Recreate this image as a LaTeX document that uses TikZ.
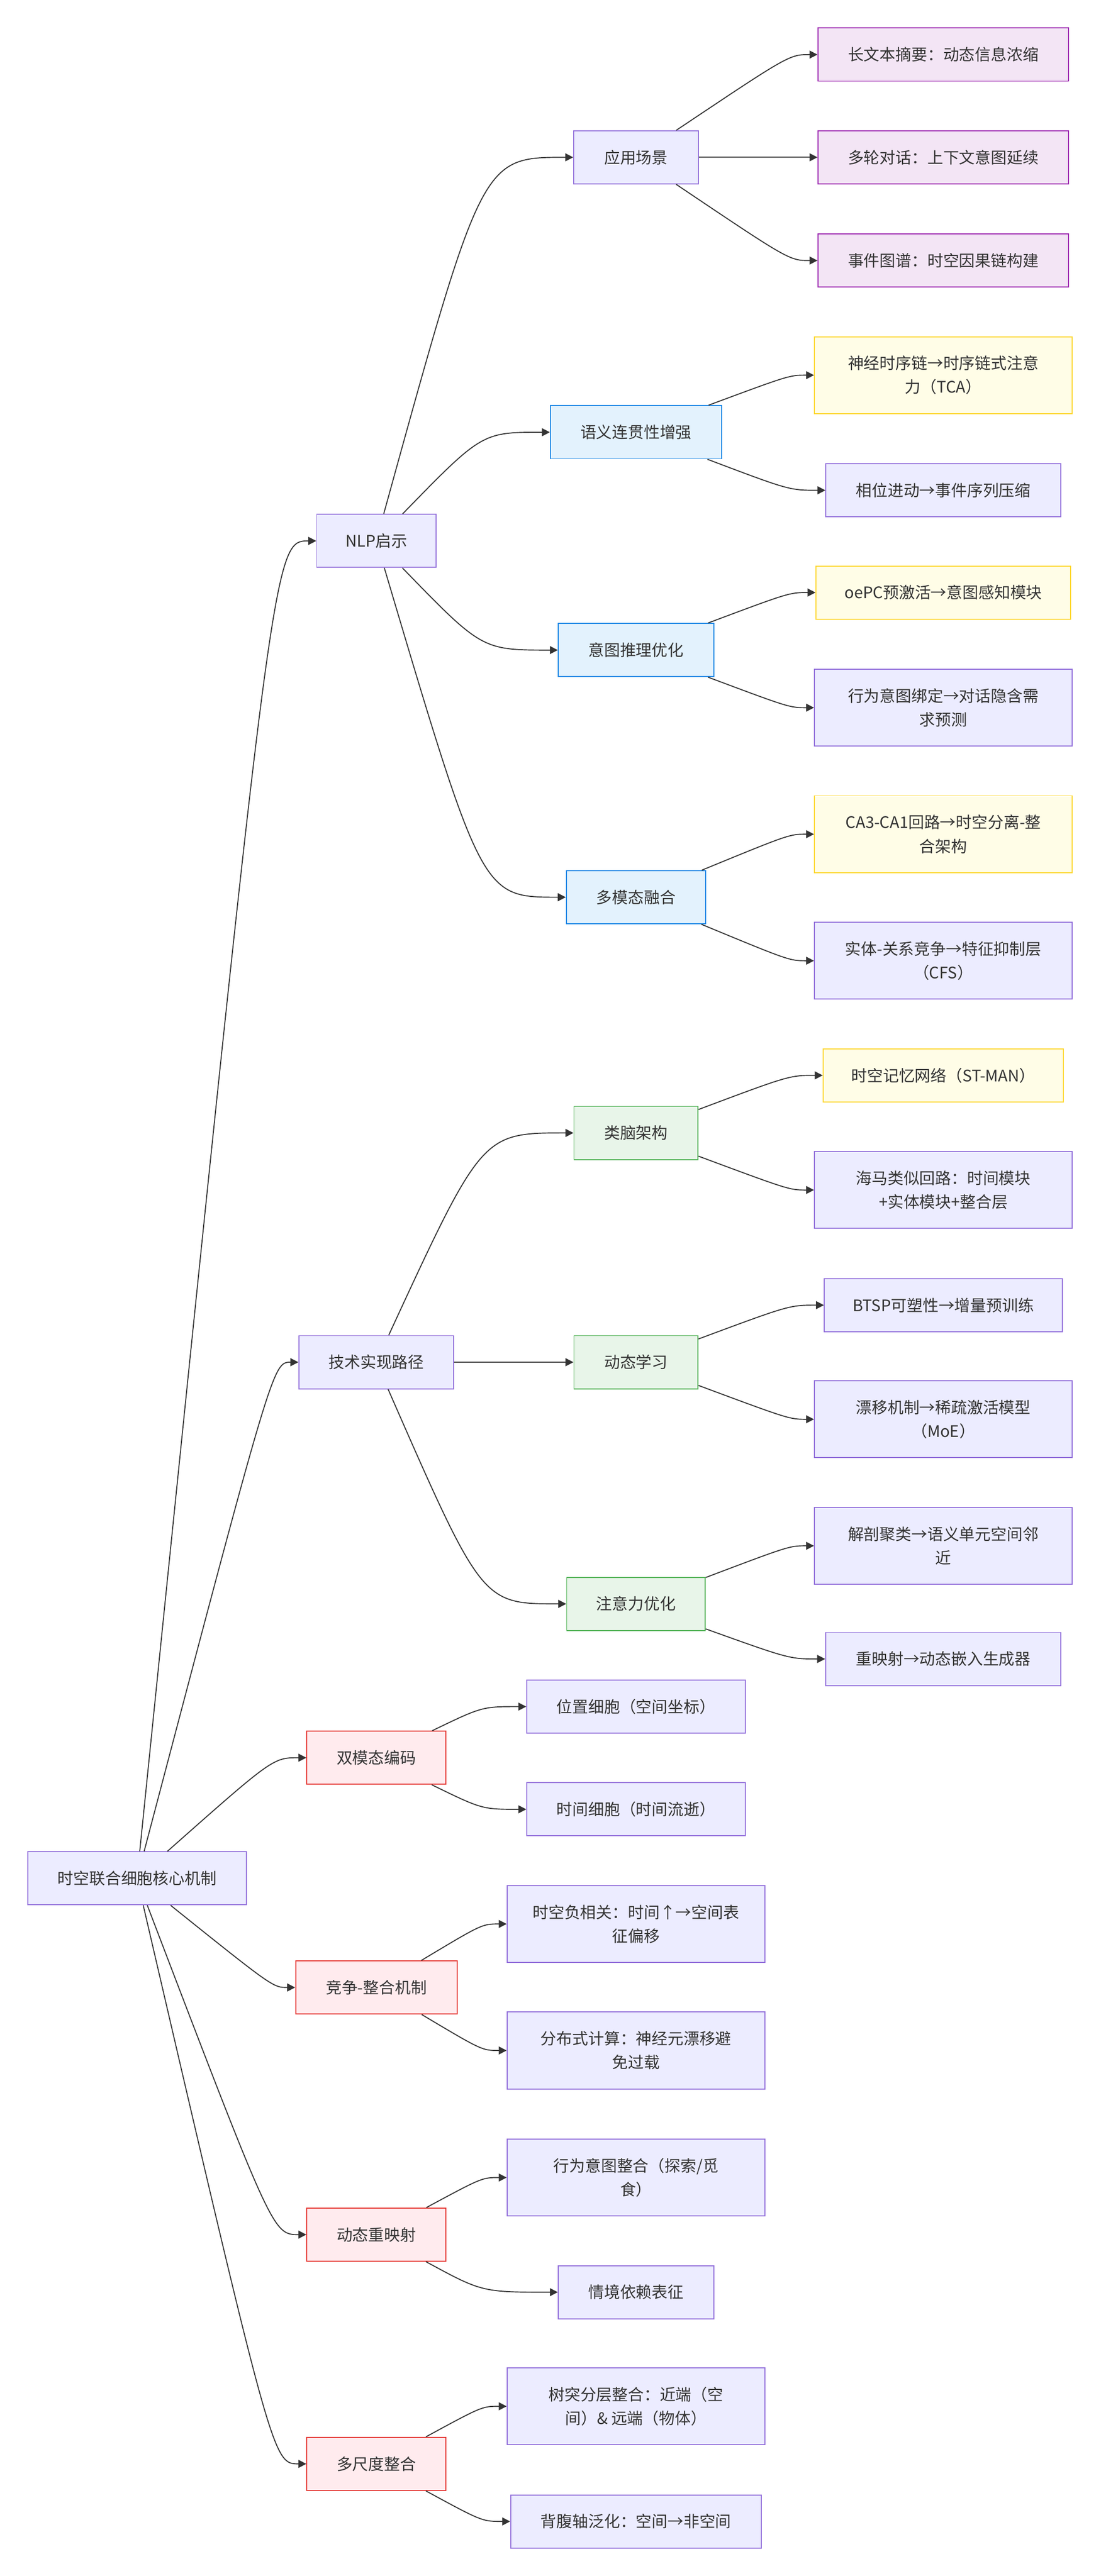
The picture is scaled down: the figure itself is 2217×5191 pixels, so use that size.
\documentclass[tikz,border=0pt]{standalone}
\usepackage{fontspec}
\setmainfont{Noto Sans CJK SC}
\usepackage{tikz}
\usetikzlibrary{arrows.meta}
\definecolor{edgeGray}{HTML}{333333}
\definecolor{baseFill}{HTML}{ECECFF}
\definecolor{baseLine}{HTML}{9370DB}
\definecolor{appFill}{HTML}{F3E5F5}
\definecolor{appLine}{HTML}{9C27B0}
\definecolor{nlpFill}{HTML}{E3F2FD}
\definecolor{nlpLine}{HTML}{1E88E5}
\definecolor{bioFill}{HTML}{FFFDE7}
\definecolor{bioLine}{HTML}{FDD835}
\definecolor{techFill}{HTML}{E8F5E9}
\definecolor{techLine}{HTML}{4CAF50}
\definecolor{coreFill}{HTML}{FFEBEE}
\definecolor{coreLine}{HTML}{E53935}
\newcommand{\tikzLinkEdge}[3]{
  \draw[link] (#1) .. controls (#2 |- #3) .. (#3.west);
}

\begin{document}
\begin{tikzpicture}[x=1pt, y=-1pt,
  box/.style={draw=baseLine, fill=baseFill, line width=2pt, rectangle, inner sep=0pt,
    minimum height=107pt, align=center, text=edgeGray,
    font=\fontsize{32pt}{48pt}\selectfont},
  tall/.style={minimum height=155pt},
  appBox/.style={box, draw=appLine, fill=appFill},
  nlpBox/.style={box, draw=nlpLine, fill=nlpFill},
  bioBox/.style={box, draw=bioLine, fill=bioFill},
  techBox/.style={box, draw=techLine, fill=techFill},
  coreBox/.style={box, draw=coreLine, fill=coreFill},
  link/.style={draw=edgeGray, line width=2pt, -{Triangle[length=16pt, width=16pt]}}]
  \useasboundingbox (0,0) rectangle (2217,5191);
  % gaps between the columns
  \coordinate (g0) at (550, 0);
  \coordinate (g1) at (971, 0);
  \coordinate (g2) at (1590, 0);

  \node [box, minimum width=440pt] (root) at (276, 3785) {时空联合细胞核心机制};

  \node [box, minimum width=240pt] (nlp) at (758, 1090) {NLP启示};
  \node [box, minimum width=312pt] (tech) at (758, 2745) {技术实现路径};
  \node [coreBox, minimum width=280pt] (dual) at (758, 3542) {双模态编码};
  \node [coreBox, minimum width=325pt] (comp) at (758, 4005) {竞争-整合机制};
  \node [coreBox, minimum width=280pt] (remap) at (758, 4503) {动态重映射};
  \node [coreBox, minimum width=280pt] (multi) at (758, 4965) {多尺度整合};
  \tikzLinkEdge{root}{g0}{nlp}
  \tikzLinkEdge{root}{g0}{tech}
  \tikzLinkEdge{root}{g0}{dual}
  \tikzLinkEdge{root}{g0}{comp}
  \tikzLinkEdge{root}{g0}{remap}
  \tikzLinkEdge{root}{g0}{multi}

  \node [box, minimum width=251pt] (app) at (1281, 317) {应用场景};
  \node [nlpBox, minimum width=345pt] (sem) at (1281, 871) {语义连贯性增强};
  \node [nlpBox, minimum width=313pt] (intent) at (1281, 1310) {意图推理优化};
  \node [nlpBox, minimum width=281pt] (fusion) at (1281, 1808) {多模态融合};
  \tikzLinkEdge{nlp}{g1}{app}
  \tikzLinkEdge{nlp}{g1}{sem}
  \tikzLinkEdge{nlp}{g1}{intent}
  \tikzLinkEdge{nlp}{g1}{fusion}

  \node [techBox, minimum width=250pt] (brain) at (1281, 2283) {类脑架构};
  \node [techBox, minimum width=250pt] (learn) at (1281, 2745) {动态学习};
  \node [techBox, minimum width=279pt] (attn) at (1281, 3232) {注意力优化};
  \tikzLinkEdge{tech}{g1}{brain}
  \tikzLinkEdge{tech}{g1}{learn}
  \tikzLinkEdge{tech}{g1}{attn}

  \node [box, minimum width=440pt] (place) at (1281, 3439) {位置细胞（空间坐标）};
  \node [box, minimum width=440pt] (timec) at (1281, 3646) {时间细胞（时间流逝）};
  \tikzLinkEdge{dual}{g1}{place}
  \tikzLinkEdge{dual}{g1}{timec}
  \node [box, tall, minimum width=519pt] (neg) at (1281, 3877) {时空负相关：时间↑→空间表\\征偏移};
  \node [box, tall, minimum width=519pt] (dist) at (1281, 4132) {分布式计算：神经元漂移避\\免过载};
  \tikzLinkEdge{comp}{g1}{neg}
  \tikzLinkEdge{comp}{g1}{dist}
  \node [box, tall, minimum width=519pt] (behav) at (1281, 4388) {行为意图整合（探索/觅\\食）};
  \node [box, minimum width=313pt] (ctx) at (1281, 4619) {情境依赖表征};
  \tikzLinkEdge{remap}{g1}{behav}
  \tikzLinkEdge{remap}{g1}{ctx}
  \node [box, tall, minimum width=519pt] (dend) at (1281, 4849) {树突分层整合：近端（空\\间）\& 远端（物体）};
  \node [box, minimum width=505pt] (axis) at (1281, 5081) {背腹轴泛化：空间→非空间};
  \tikzLinkEdge{multi}{g1}{dend}
  \tikzLinkEdge{multi}{g1}{axis}

  \node [appBox, minimum width=505pt] (summ) at (1900, 110) {长文本摘要：动态信息浓缩};
  \node [appBox, minimum width=505pt] (dialog) at (1900, 317) {多轮对话：上下文意图延续};
  \node [appBox, minimum width=505pt] (event) at (1900, 525) {事件图谱：时空因果链构建};
  \tikzLinkEdge{app}{g2}{summ}
  \tikzLinkEdge{app}{g2}{dialog}
  \tikzLinkEdge{app}{g2}{event}
  \node [bioBox, tall, minimum width=519pt] (tca) at (1900, 756) {神经时序链→时序链式注意\\力（TCA）};
  \node [box, minimum width=473pt] (phase) at (1900, 988) {相位进动→事件序列压缩};
  \tikzLinkEdge{sem}{g2}{tca}
  \tikzLinkEdge{sem}{g2}{phase}
  \node [bioBox, minimum width=513pt] (oepc) at (1900, 1194) {oePC预激活→意图感知模块};
  \node [box, tall, minimum width=519pt] (bind) at (1900, 1426) {行为意图绑定→对话隐含需\\求预测};
  \tikzLinkEdge{intent}{g2}{oepc}
  \tikzLinkEdge{intent}{g2}{bind}
  \node [bioBox, tall, minimum width=519pt] (loop) at (1900, 1681) {CA3-CA1回路→时空分离-整\\合架构};
  \node [box, tall, minimum width=519pt] (cfs) at (1900, 1936) {实体-关系竞争→特征抑制层\\（CFS）};
  \tikzLinkEdge{fusion}{g2}{loop}
  \tikzLinkEdge{fusion}{g2}{cfs}

  \node [bioBox, minimum width=484pt] (stman) at (1900, 2167) {时空记忆网络（ST-MAN）};
  \node [box, tall, minimum width=519pt] (hippo) at (1900, 2398) {海马类似回路：时间模块\\+实体模块+整合层};
  \tikzLinkEdge{brain}{g2}{stman}
  \tikzLinkEdge{brain}{g2}{hippo}
  \node [box, minimum width=479pt] (btsp) at (1900, 2630) {BTSP可塑性→增量预训练};
  \node [box, tall, minimum width=519pt] (drift) at (1900, 2860) {漂移机制→稀疏激活模型\\（MoE）};
  \tikzLinkEdge{learn}{g2}{btsp}
  \tikzLinkEdge{learn}{g2}{drift}
  \node [box, tall, minimum width=519pt] (anat) at (1900, 3115) {解剖聚类→语义单元空间邻\\近};
  \node [box, minimum width=474pt] (embed) at (1900, 3343) {重映射→动态嵌入生成器};
  \tikzLinkEdge{attn}{g2}{anat}
  \tikzLinkEdge{attn}{g2}{embed}
\end{tikzpicture}
\end{document}
